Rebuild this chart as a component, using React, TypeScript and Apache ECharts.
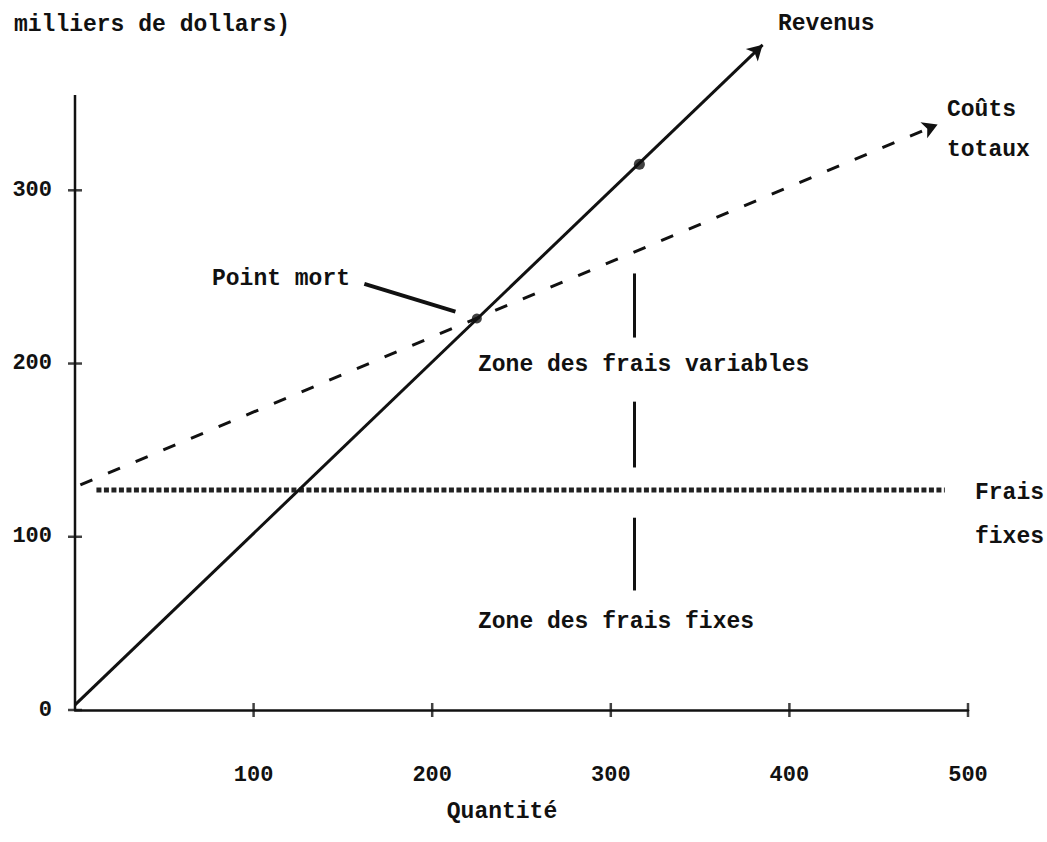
import React, { useEffect, useRef } from "react";
import * as echarts from "echarts";

// Axis ticks
const quantityTicks = [100, 200, 300, 400, 500];
const valueTicks = [0, 100, 200, 300];
const valueAxisTop = 355;

// Lines (quantité, milliers de dollars)
const revenue = [[0, 3], [385, 384]];
const totalCosts = [[3, 130], [483, 338]];
const fixedCosts = [[12, 127], [487, 127]];

// Points
const breakEven = [225, 226];
const revenueMark = [316, 315];

// Zone divider segments and "Point mort" pointer
const zoneDivider = [
  [[313, 252], [313, 215]],
  [[313, 178], [313, 140]],
  [[313, 111], [313, 69]],
];
const pointer = [[162, 246], [213, 230]];

const INK = "#111111";
const FONT = '"Liberation Mono", "DejaVu Sans Mono", monospace';

function txt(text: string, x: number, y: number, align: string = "left") {
  return {
    type: "text",
    x,
    y,
    silent: true,
    style: {
      text,
      fill: INK,
      fontFamily: FONT,
      fontWeight: "bold",
      fontSize: 23,
      align,
      verticalAlign: "middle",
    },
  };
}

export default function App() {
  const ref = useRef<HTMLDivElement>(null);

  useEffect(() => {
    if (!ref.current) return;
    const chart = echarts.init(ref.current, null, { renderer: "svg" });
    const seg = (pair: number[][]) => [{ coord: pair[0] }, { coord: pair[1] }];
    chart.setOption({
      animation: false,
      backgroundColor: "#ffffff",
      grid: { left: 75, right: 79, top: 34.4, bottom: 132 },
      xAxis: {
        type: "value",
        min: 0,
        max: 500,
        interval: 100,
        axisLine: { show: true, lineStyle: { color: INK, width: 2.5 } },
        axisTick: { show: false },
        splitLine: { show: false },
        axisLabel: {
          showMinLabel: false,
          margin: 54,
          color: INK,
          fontFamily: FONT,
          fontWeight: "bold",
          fontSize: 22,
        },
      },
      yAxis: {
        type: "value",
        min: 0,
        max: 390,
        interval: 100,
        axisLine: { show: false },
        axisTick: { show: false },
        splitLine: { show: false },
        axisLabel: {
          showMaxLabel: false,
          margin: 23,
          color: INK,
          fontFamily: FONT,
          fontWeight: "bold",
          fontSize: 22,
        },
      },
      series: [
        {
          name: "Axe vertical",
          type: "line",
          data: [[0, 0], [0, valueAxisTop]],
          symbol: "none",
          silent: true,
          clip: false,
          lineStyle: { color: INK, width: 2.5 },
        },
        {
          name: "Frais fixes",
          type: "line",
          data: fixedCosts,
          symbol: "none",
          silent: true,
          lineStyle: { color: "#222222", width: 5, type: [5, 2.5] },
        },
        {
          name: "Revenus",
          type: "line",
          data: [],
          silent: true,
          markLine: {
            silent: true,
            symbol: ["none", "arrow"],
            symbolSize: [13, 15],
            label: { show: false },
            lineStyle: { color: INK, width: 3, type: "solid" },
            data: [seg(revenue)],
          },
        },
        {
          name: "Coûts totaux",
          type: "line",
          data: [],
          silent: true,
          markLine: {
            silent: true,
            symbol: ["none", "arrow"],
            symbolSize: [13, 15],
            label: { show: false },
            lineStyle: { color: INK, width: 3, type: [13, 17] },
            data: [seg(totalCosts)],
          },
        },
        {
          name: "Zones",
          type: "line",
          data: [],
          silent: true,
          markLine: {
            silent: true,
            symbol: ["none", "none"],
            label: { show: false },
            lineStyle: { color: INK, width: 3, type: "solid" },
            data: zoneDivider.map(seg),
          },
        },
        {
          name: "Pointeur",
          type: "line",
          data: [],
          silent: true,
          markLine: {
            silent: true,
            symbol: ["none", "none"],
            label: { show: false },
            lineStyle: { color: INK, width: 4, type: "solid" },
            data: [seg(pointer)],
          },
        },
        {
          name: "Points",
          type: "scatter",
          clip: false,
          silent: true,
          data: [
            { value: breakEven, symbolSize: 10 },
            { value: revenueMark, symbolSize: 11 },
          ],
          itemStyle: { color: INK },
        },
        {
          name: "xTicks",
          type: "scatter",
          clip: false,
          silent: true,
          symbol: "rect",
          symbolSize: [2.5, 14],
          data: quantityTicks.map((v) => [v, 0]),
          itemStyle: { color: INK },
        },
        {
          name: "yTicks",
          type: "scatter",
          clip: false,
          silent: true,
          symbol: "rect",
          symbolSize: [14, 2.5],
          data: valueTicks.map((v) => [0, v]),
          itemStyle: { color: INK },
        },
      ],
      graphic: [
        txt("milliers de dollars)", 14, 25),
        txt("Revenus", 778, 24),
        txt("Coûts", 947, 110),
        txt("totaux", 947, 150),
        txt("Point mort", 212, 279),
        txt("Zone des frais variables", 478, 365),
        txt("Zone des frais fixes", 478, 622),
        txt("Frais", 975, 493),
        txt("fixes", 975, 537),
        txt("Quantité", 502, 812, "center"),
      ],
    });
    return () => chart.dispose();
  }, []);

  return (
    <div
      ref={ref}
      style={{ position: "absolute", left: 0, top: 0, width: 1047, height: 842 }}
    />
  );
}
